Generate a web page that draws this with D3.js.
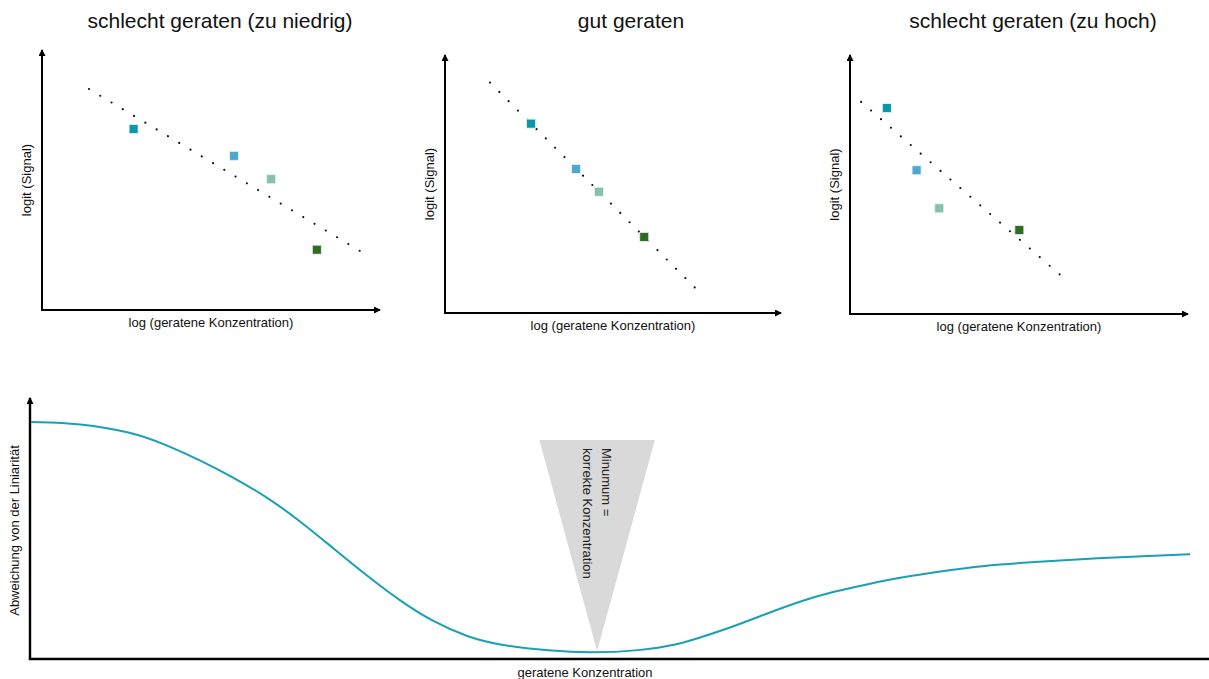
<!DOCTYPE html>
<html>
<head>
<meta charset="utf-8">
<script src="https://cdn.jsdelivr.net/npm/d3@7"></script>
<style>
  body { margin: 0; background: #fff; }
  text { font-family: Arial, "Liberation Sans", sans-serif; fill: #111; }
</style>
</head>
<body>
<div id="chart"></div>
<script>
// --- top row: three calibration sketches (axis units 0-10) ---
const panelTitles = ["schlecht geraten (zu niedrig)", "gut geraten", "schlecht geraten (zu hoch)"];
const xLabel = "log (geratene Konzentration)";
const yLabel = "logit (Signal)";
// ends of the dotted regression line in each panel
const fitStart = [[1.39, 8.50], [1.34, 8.93], [0.33, 8.19]];
const fitEnd   = [[9.41, 2.27], [7.44, 0.98], [6.21, 1.52]];
// four standards per panel
const standardX = [[2.71, 5.68, 6.78, 8.13], [2.56, 3.90, 4.58, 5.93], [1.09, 1.97, 2.64, 5.01]];
const standardY = [[6.96, 5.93, 5.03, 2.32], [7.34, 5.58, 4.70, 2.95], [7.95, 5.55, 4.08, 3.24]];
const standardColors = ["#0897ab", "#4fa9cf", "#86c1aa", "#2f6b21"];

// --- bottom: deviation from linearity vs guessed concentration (0-100) ---
const concentration = [0.1, 4.2, 8.7, 11.6, 14.4, 17.2, 20.1, 22.9, 25.7, 28.6, 31.4, 34.2, 37.1, 39.9,
  44.1, 47.5, 51.7, 55.1, 56.8, 59.6, 62.5, 65.3, 68.1, 71.0, 73.8, 76.6, 79.5, 82.3, 85.1, 90.8, 95.0, 98.4];
const deviation = [90.8, 90.4, 86.9, 82.0, 76.2, 69.7, 62.1, 52.9, 42.5, 31.8, 22.2, 14.2, 8.4, 5.2,
  3.1, 2.3, 3.1, 5.7, 8.2, 12.3, 17.4, 22.1, 25.8, 28.6, 31.2, 33.2, 35.0, 36.2, 37.2, 38.7, 39.5, 40.1];
const markerX = [43.2, 53.0, 48.1];
const markerY = [83.9, 83.9, 3.1];
const markerText = ["Minumum =", "korrekte Konzentration"];
const bottomXLabel = "geratene Konzentration";
const bottomYLabel = "Abweichung von der Liniarität";

const width = 1209, height = 679;

const svg = d3.select("#chart")
  .append("svg")
    .attr("width", width)
    .attr("height", height);

svg.append("defs").append("marker")
    .attr("id", "arrow")
    .attr("markerUnits", "userSpaceOnUse")
    .attr("markerWidth", 8)
    .attr("markerHeight", 8)
    .attr("refX", 6)
    .attr("refY", 3.5)
    .attr("orient", "auto")
  .append("path")
    .attr("d", "M0,0 L7,3.5 L0,7 Z")
    .attr("fill", "#000");

// panel frames (axis corners in pixels)
const frames = [
  { left: 42,  right: 380,  top: 50, bottom: 310, titleX: 220 },
  { left: 445, right: 781,  top: 55, bottom: 313, titleX: 631 },
  { left: 850, right: 1188, top: 55, bottom: 314, titleX: 1033 }
];

frames.forEach((f, i) => {
  const x = d3.scaleLinear().domain([0, 10]).range([f.left, f.right]);
  const y = d3.scaleLinear().domain([0, 10]).range([f.bottom, f.top]);
  const g = svg.append("g");

  g.append("text")
    .attr("x", f.titleX)
    .attr("y", 28)
    .attr("text-anchor", "middle")
    .style("font-size", "21px")
    .text(panelTitles[i]);

  // axes with arrowheads
  g.append("line")
    .attr("x1", x(0)).attr("y1", y(0))
    .attr("x2", x(0)).attr("y2", y(10))
    .attr("stroke", "#000").attr("stroke-width", 2)
    .attr("marker-end", "url(#arrow)");
  g.append("line")
    .attr("x1", x(0) - 1).attr("y1", y(0))
    .attr("x2", x(10)).attr("y2", y(0))
    .attr("stroke", "#000").attr("stroke-width", 2)
    .attr("marker-end", "url(#arrow)");

  g.append("text")
    .attr("x", (x(0) + x(10)) / 2)
    .attr("y", y(0) + 17)
    .attr("text-anchor", "middle")
    .style("font-size", "13px")
    .text(xLabel);

  g.append("text")
    .attr("transform", `translate(${x(0) - 11},${(y(0) + y(10)) / 2}) rotate(-90)`)
    .attr("text-anchor", "middle")
    .style("font-size", "13px")
    .text(yLabel);

  // dotted regression line, dots spread evenly from end to end
  const fit = g.append("path")
    .attr("d", d3.line()([[x(fitStart[i][0]), y(fitStart[i][1])], [x(fitEnd[i][0]), y(fitEnd[i][1])]]))
    .attr("stroke", "#111")
    .attr("stroke-width", 2.2)
    .attr("stroke-linecap", "round")
    .attr("fill", "none");
  const len = fit.node().getTotalLength();
  const gap = len / Math.round(len / 13.2) - 0.02;
  fit.attr("stroke-dasharray", `0 ${gap}`);

  // standards
  g.selectAll("rect")
    .data(standardX[i].map((v, k) => ({ x: v, y: standardY[i][k], c: standardColors[k] })))
    .join("rect")
      .attr("x", d => x(d.x) - 4.5)
      .attr("y", d => y(d.y) - 4.5)
      .attr("width", 9)
      .attr("height", 9)
      .attr("fill", d => d.c)
      .attr("stroke", "#e8f4f4")
      .attr("stroke-width", 0.8);
});

// --- bottom chart ---
const bx = d3.scaleLinear().domain([0, 100]).range([30, 1209]);
const by = d3.scaleLinear().domain([0, 100]).range([659, 398]);
const bottom = svg.append("g");

// triangle marking the minimum
bottom.append("path")
  .attr("d", d3.line()(markerX.map((v, k) => [bx(v), by(markerY[k])])) + "Z")
  .attr("fill", "#d9d9d9");

bottom.selectAll(".mark-text")
  .data(markerText)
  .join("text")
    .attr("class", "mark-text")
    .attr("transform", (d, k) => `translate(${k === 0 ? 602 : 583},448) rotate(90)`)
    .style("font-size", "13px")
    .style("fill", "#222")
    .text(d => d);

bottom.append("path")
  .datum(concentration.map((c, k) => [c, deviation[k]]))
  .attr("d", d3.line().x(d => bx(d[0])).y(d => by(d[1])).curve(d3.curveBasis))
  .attr("fill", "none")
  .attr("stroke", "#19a0b4")
  .attr("stroke-width", 2);

bottom.append("line")
  .attr("x1", bx(0)).attr("y1", by(0))
  .attr("x2", bx(0)).attr("y2", by(100))
  .attr("stroke", "#000").attr("stroke-width", 2.4)
  .attr("marker-end", "url(#arrow)");
bottom.append("line")
  .attr("x1", bx(0) - 1.2).attr("y1", by(0))
  .attr("x2", bx(100)).attr("y2", by(0))
  .attr("stroke", "#000").attr("stroke-width", 2.4);

bottom.append("text")
  .attr("x", 585)
  .attr("y", 677)
  .attr("text-anchor", "middle")
  .style("font-size", "13px")
  .text(bottomXLabel);

bottom.append("text")
  .attr("transform", `translate(19,${(by(0) + by(100)) / 2 + 2}) rotate(-90)`)
  .attr("text-anchor", "middle")
  .style("font-size", "13px")
  .text(bottomYLabel);
</script>
</body>
</html>
